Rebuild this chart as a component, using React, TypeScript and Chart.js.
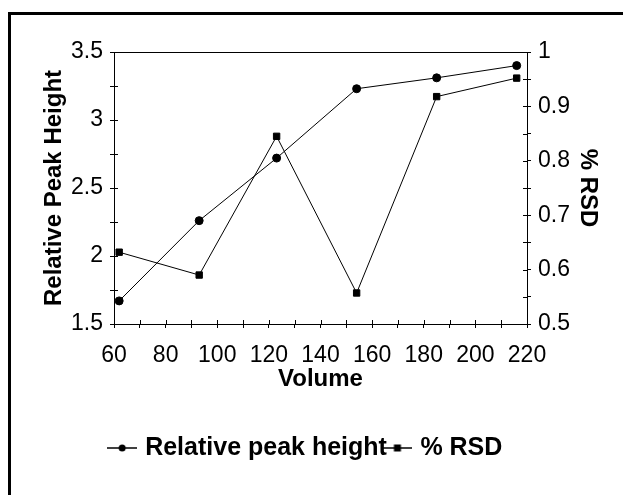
import React, { useEffect, useRef } from 'react';
import { Chart, registerables } from 'chart.js';

Chart.register(...registerables);

const volume = [62, 93, 123, 154, 185, 216];
const peakHeight = [1.67, 2.26, 2.72, 3.23, 3.31, 3.4];
const rsd = [0.632, 0.59, 0.845, 0.557, 0.918, 0.952];
const seriesLabels = ['Relative peak height', '% RSD'];
const xTitle = 'Volume';
const yTitle = 'Relative Peak Height';
const y1Title = '% RSD';

const FONT = '"Liberation Sans", Arial, Helvetica, sans-serif';

function makeSymbol(kind: 'circle' | 'rect'): HTMLCanvasElement {
  const c = document.createElement('canvas');
  c.width = 30;
  c.height = 10;
  const ctx = c.getContext('2d')!;
  ctx.strokeStyle = '#000';
  ctx.fillStyle = '#000';
  ctx.lineWidth = 1.5;
  ctx.beginPath();
  ctx.moveTo(0, 5);
  ctx.lineTo(30, 5);
  ctx.stroke();
  if (kind === 'circle') {
    ctx.beginPath();
    ctx.arc(15, 5, 3.5, 0, Math.PI * 2);
    ctx.fill();
  } else {
    ctx.fillRect(11.5, 1.5, 7, 7);
  }
  return c;
}

const framePlugin = {
  id: 'frame',
  beforeDraw(chart: any) {
    const { ctx, width, height } = chart;
    ctx.save();
    ctx.fillStyle = '#fff';
    ctx.fillRect(0, 0, width, height);
    ctx.fillStyle = '#000';
    ctx.fillRect(8, 12, 3, height - 12);
    ctx.fillRect(8, 12, width - 8, 3);
    ctx.restore();
  },
  afterDraw(chart: any) {
    const { ctx, chartArea } = chart;
    ctx.save();
    ctx.strokeStyle = '#000';
    ctx.lineWidth = 1;
    ctx.beginPath();
    ctx.moveTo(chartArea.left, chartArea.top + 0.5);
    ctx.lineTo(chartArea.right, chartArea.top + 0.5);
    const x = chart.scales.x;
    const y = chart.scales.y;
    const y1 = chart.scales.y1;
    x.ticks.forEach((t: any) => {
      const px = Math.round(x.getPixelForValue(t.value)) + 0.5;
      ctx.moveTo(px, chartArea.bottom);
      ctx.lineTo(px, chartArea.bottom - 4);
    });
    y.ticks.forEach((t: any) => {
      const py = Math.round(y.getPixelForValue(t.value)) + 0.5;
      ctx.moveTo(chartArea.left, py);
      ctx.lineTo(chartArea.left + 4, py);
    });
    y1.ticks.forEach((t: any) => {
      const py = Math.round(y1.getPixelForValue(t.value)) + 0.5;
      ctx.moveTo(chartArea.right, py);
      ctx.lineTo(chartArea.right - 4, py);
    });
    ctx.stroke();
    ctx.restore();
  },
};

const isMult = (v: number, step: number) => {
  const r = v / step;
  return Math.abs(r - Math.round(r)) < 1e-6;
};
const fmt = (v: number) => String(Math.round(v * 100) / 100);

export default function App() {
  const ref = useRef<HTMLCanvasElement>(null);
  useEffect(() => {
    if (!ref.current) return;
    const symbols = [makeSymbol('circle'), makeSymbol('rect')];
    const chart = new Chart(ref.current, {
      type: 'line',
      data: {
        datasets: [
          {
            label: seriesLabels[0],
            data: volume.map((x, i) => ({ x, y: peakHeight[i] })),
            yAxisID: 'y',
            borderColor: '#000',
            backgroundColor: '#000',
            borderWidth: 1,
            pointStyle: 'circle',
            pointRadius: 4,
            pointBackgroundColor: '#000',
            pointBorderColor: '#000',
            tension: 0,
          },
          {
            label: seriesLabels[1],
            data: volume.map((x, i) => ({ x, y: rsd[i] })),
            yAxisID: 'y1',
            borderColor: '#000',
            backgroundColor: '#000',
            borderWidth: 1,
            pointStyle: 'rect',
            pointRadius: 4.5,
            pointBackgroundColor: '#000',
            pointBorderColor: '#000',
            tension: 0,
          },
        ],
      },
      options: {
        animation: false,
        responsive: false,
        layout: { padding: { top: 52, left: 0, right: 9, bottom: 24.5 } },
        plugins: {
          tooltip: { enabled: false },
          legend: {
            position: 'bottom',
            labels: {
              usePointStyle: true,
              pointStyleWidth: 21,
              padding: 0,
              color: '#000',
              font: { family: FONT, size: 25, weight: 'bold' },
              generateLabels: () =>
                seriesLabels.map((text, i) => ({
                  text,
                  pointStyle: symbols[i] as any,
                  fillStyle: '#000',
                  strokeStyle: '#000',
                  lineWidth: 0,
                  hidden: false,
                  datasetIndex: i,
                  fontColor: '#000',
                })),
            },
          },
        },
        scales: {
          x: {
            type: 'linear',
            min: 60,
            max: 220,
            afterFit: (s: any) => {
              s.height = 111.5;
            },
            ticks: {
              stepSize: 10,
              autoSkip: false,
              maxRotation: 0,
              padding: 14,
              color: '#000',
              font: { family: FONT, size: 23 },
              callback: (v: any) => (isMult(Number(v), 20) ? fmt(Number(v)) : ''),
            },
            grid: { drawOnChartArea: false, drawTicks: true, tickLength: 4, color: '#000' },
            border: { display: true, color: '#000', width: 1 },
            title: {
              display: true,
              text: xTitle,
              color: '#000',
              font: { family: FONT, size: 24, weight: 'bold' },
              padding: { top: 0, bottom: 42 },
            },
          },
          y: {
            type: 'linear',
            position: 'left',
            min: 1.5,
            max: 3.5,
            afterFit: (s: any) => {
              s.width = 114;
            },
            ticks: {
              stepSize: 0.25,
              autoSkip: false,
              padding: 7,
              color: '#000',
              font: { family: FONT, size: 23 },
              callback: (v: any) => (isMult(Number(v), 0.5) ? fmt(Number(v)) : ''),
            },
            grid: { drawOnChartArea: false, drawTicks: true, tickLength: 4, color: '#000' },
            border: { display: true, color: '#000', width: 1 },
            title: {
              display: true,
              text: yTitle,
              color: '#000',
              font: { family: FONT, size: 24, weight: 'bold' },
              padding: { top: 39.6, bottom: 0 },
            },
          },
          y1: {
            type: 'linear',
            position: 'right',
            min: 0.5,
            max: 1,
            afterFit: (s: any) => {
              s.width = 87;
            },
            ticks: {
              stepSize: 0.05,
              autoSkip: false,
              padding: 7,
              color: '#000',
              font: { family: FONT, size: 23 },
              callback: (v: any) => (isMult(Number(v), 0.1) ? fmt(Number(v)) : ''),
            },
            grid: { drawOnChartArea: false, drawTicks: true, tickLength: 4, color: '#000' },
            border: { display: true, color: '#000', width: 1 },
            title: {
              display: true,
              text: y1Title,
              color: '#000',
              font: { family: FONT, size: 24, weight: 'bold' },
              padding: { top: 11.6, bottom: 0 },
            },
          },
        },
      },
      plugins: [framePlugin],
    });
    return () => chart.destroy();
  }, []);
  return (
    <div style={{ position: 'fixed', left: 0, top: 0, width: 623, height: 495 }}>
      <canvas ref={ref} width={623} height={495} style={{ width: 623, height: 495, display: 'block' }} />
    </div>
  );
}
